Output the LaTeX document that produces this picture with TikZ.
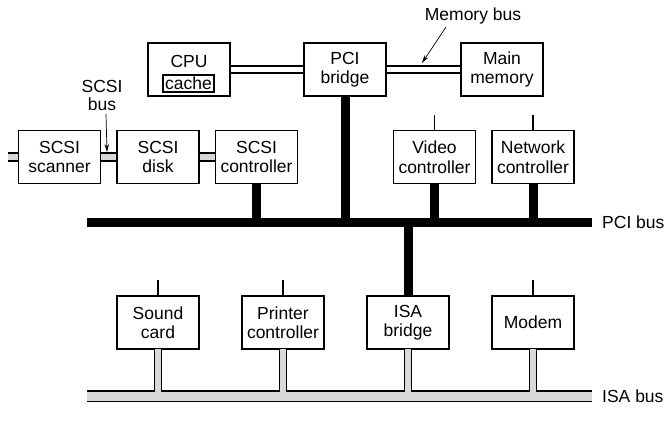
\documentclass[tikz,border=0pt]{standalone}
\usepackage{fontspec}
\setmainfont{Liberation Sans}
\usetikzlibrary{arrows.meta}
\definecolor{busgray}{RGB}{216,216,216}
\tikzset{
  unitbox/.style={draw, line width=1.3pt, minimum width=82pt, minimum height=53pt, inner sep=0pt, align=center,
    font=\fontsize{17.5}{19.5}\selectfont},
  txt/.style={inner sep=0pt, align=center, font=\fontsize{17.5}{19}\selectfont},
  membus/.style={line width=1.5pt, double=white, double distance=5.5pt},
  scsibus/.style={line width=1.4pt, double=busgray, double distance=6.5pt},
  pcibus/.style={line width=9.5pt},
  pcistub/.style={line width=9pt},
  thin/.style={line width=1.1pt},
  ptr/.style={line width=0.7pt, -{Stealth[length=8pt,width=4.5pt]}},
}
\begin{document}
\begin{tikzpicture}[x=1pt,y=-1pt]
\useasboundingbox (0,0) rectangle (670,426);
% top row
\node[unitbox] (cpu) at (189,69.5) {};
\node[txt] (cputxt) at (189,61) {CPU};
\node[draw, line width=1.1pt, minimum width=51pt, minimum height=17pt, inner sep=0pt, font=\fontsize{17.5}{19}\selectfont] (cache) at (188.5,83.5) {cache};
\node[unitbox] (pcib) at (345,69.5) {PCI\\bridge};
\node[unitbox] (mem) at (502,69.5) {Main\\memory};
% memory bus
\draw[membus] (cpu.east) -- (pcib.west);
\draw[membus] (pcib.east) -- (mem.west);
\node[txt] (memlabel) at (473,16) {Memory bus};
\coordinate (mbfrom) at (446,27);
\coordinate (mbto) at (422,63);
\draw[ptr] (mbfrom) -- (mbto);
% SCSI row
\node[unitbox] (scan) at (59.5,157) {SCSI\\scanner};
\node[unitbox] (disk) at (158,157) {SCSI\\disk};
\node[unitbox] (scsic) at (256.5,157) {SCSI\\controller};
\coordinate (scsiend) at (8,157);
\draw[scsibus] (scsiend) -- (scan.west);
\draw[scsibus] (scan.east) -- (disk.west);
\draw[scsibus] (disk.east) -- (scsic.west);
\node[txt, font=\fontsize{17.5}{18}\selectfont] (scsilabel) at (102,95) {SCSI\\bus};
\coordinate (sbfrom) at (106,114);
\coordinate (sbto) at (107,152);
\draw[ptr] (sbfrom) -- (sbto);
% video/network
\node[unitbox] (video) at (434.5,157) {Video\\controller};
\node[unitbox] (net) at (533,157) {Network\\controller};
\coordinate (vtop) at (434.5,115);
\coordinate (ntop) at (533,115);
\draw[thin] (vtop) -- (video.north);
\draw[thin] (ntop) -- (net.north);
% PCI bus
\coordinate (pciL) at (87,222.5);
\coordinate (pciR) at (592,222.5);
\draw[pcibus] (pciL) -- (pciR);
\node[txt, anchor=west] (pcilabel) at (602,222.5) {PCI bus};
\draw[pcistub] (pcib.south) -- (pcib.south |- pciL);
\draw[pcistub] (scsic.south) -- (scsic.south |- pciL);
\draw[pcistub] (video.south) -- (video.south |- pciL);
\draw[pcistub] (net.south) -- (net.south |- pciL);
% ISA row
\node[unitbox] (sound) at (158,322.5) {Sound\\card};
\node[unitbox] (printer) at (283,322.5) {Printer\\controller};
\node[unitbox] (isab) at (408,322.5) {ISA\\bridge};
\node[unitbox] (modem) at (533,322.5) {Modem};
\draw[pcistub] (isab.north |- pciL) -- (isab.north);
\coordinate (stop) at (158,280);
\coordinate (ptop) at (283,280);
\coordinate (mtop) at (533,280);
\draw[thin] (stop) -- (sound.north);
\draw[thin] (ptop) -- (printer.north);
\draw[thin] (mtop) -- (modem.north);
% ISA bus
\coordinate (isaL) at (87,396);
\coordinate (isaR) at (592,396);
\draw[line width=12.5pt] (isaL) -- (isaR);
\foreach \n in {sound,printer,isab,modem}{
  \draw[line width=8.8pt] (\n.south) -- (\n.south |- isaL);
}
\draw[line width=9pt, busgray] ([yshift=-0.8pt]isaL) -- ([yshift=-0.8pt]isaR);
\foreach \n in {sound,printer,isab,modem}{
  \draw[line width=5.8pt, busgray] ([yshift=0.7pt]\n.south) -- (\n.south |- isaL);
}
\node[txt, anchor=west] (isalabel) at (602,396) {ISA bus};
\end{tikzpicture}
\end{document}
